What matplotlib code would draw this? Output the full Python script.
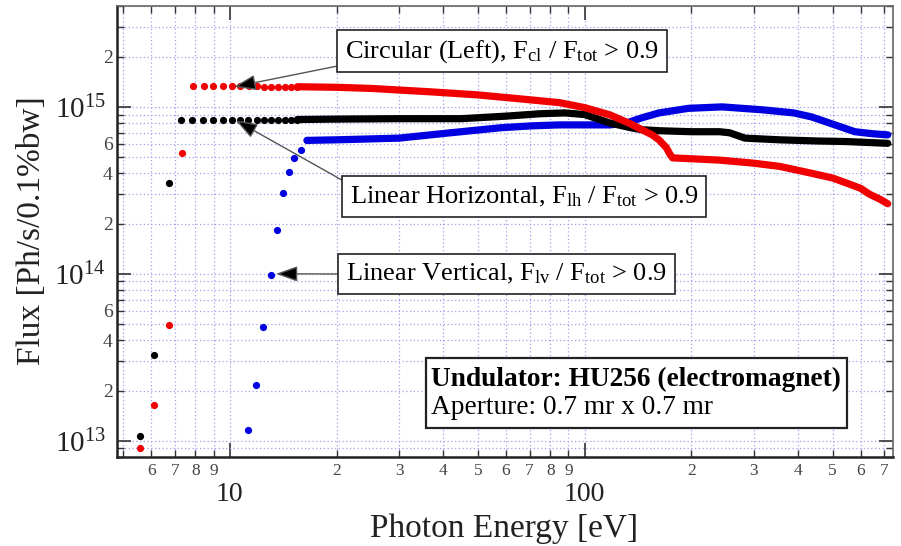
import numpy as np
import matplotlib
matplotlib.use("Agg")
import matplotlib.pyplot as plt
from matplotlib.patches import Rectangle
from matplotlib.ticker import LogLocator, FuncFormatter

plt.rcParams["font.family"] = ["Liberation Serif", "DejaVu Serif"]
plt.rcParams["mathtext.fontset"] = "custom"
plt.rcParams["mathtext.rm"] = "Liberation Serif"
plt.rcParams["mathtext.it"] = "Liberation Serif:italic"
plt.rcParams["mathtext.bf"] = "Liberation Serif:bold"

# sparse dots at low photon energy (eV, Ph/s/0.1%bw)
red_dot_e = [5.58, 6.11, 6.73, 7.32, 7.87, 8.45, 8.98, 9.56, 10.13, 10.7, 11.3,
             11.9, 12.5, 13.1, 13.7, 14.3, 14.9, 15.5]
red_dot_f = [9.1e12, 1.64e13, 4.95e13, 5.3e14, 1.33e15, 1.33e15, 1.33e15, 1.33e15,
             1.33e15, 1.33e15, 1.33e15, 1.33e15, 1.32e15, 1.32e15, 1.32e15, 1.32e15,
             1.32e15, 1.32e15]
black_dot_e = [5.58, 6.11, 6.73, 7.28, 7.85, 8.43, 8.97, 9.54, 10.13, 10.67, 11.25,
               11.9, 12.5, 13.1, 13.7, 14.3, 14.9, 15.5]
black_dot_f = [1.07e13, 3.27e13, 3.5e14, 8.4e14, 8.4e14, 8.4e14, 8.4e14, 8.4e14,
               8.4e14, 8.4e14, 8.4e14, 8.4e14, 8.4e14, 8.4e14, 8.4e14, 8.4e14,
               8.4e14, 8.4e14]
blue_dot_e = [11.24, 11.83, 12.39, 13.04, 13.56, 14.1, 14.66, 15.2, 15.85, 16.5]
blue_dot_f = [1.16e13, 2.16e13, 4.82e13, 9.86e13, 1.83e14, 3.05e14, 4.08e14,
              4.95e14, 5.5e14, 6.3e14]

# dense part (reads as a thick band)
red_e = [15.5, 20, 25, 37, 50, 71, 85, 100, 118, 135, 145, 155, 162, 170, 174,
         177, 240, 300, 355, 437, 500, 547, 600, 635, 680, 715]
red_f = [1.32e15, 1.31e15, 1.29e15, 1.23e15, 1.18e15, 1.10e15, 1.06e15, 9.9e14,
         8.95e14, 7.9e14, 7.3e14, 6.8e14, 6.35e14, 5.7e14, 5.2e14, 4.95e14,
         4.8e14, 4.6e14, 4.4e14, 4.0e14, 3.75e14, 3.5e14, 3.25e14, 3.0e14,
         2.8e14, 2.63e14]
black_e = [15.5, 20, 30, 45, 60, 75, 88, 100, 118, 135, 145, 162, 200, 240, 256,
           283, 355, 450, 547, 715]
black_f = [8.4e14, 8.45e14, 8.5e14, 8.5e14, 8.8e14, 9.1e14, 9.2e14, 9.0e14,
           8.0e14, 7.5e14, 7.3e14, 7.2e14, 7.1e14, 7.1e14, 7.0e14, 6.5e14,
           6.35e14, 6.25e14, 6.2e14, 6.05e14]
blue_e = [16.5, 20, 30, 42, 58, 71, 85, 118, 131, 145, 162, 196, 244, 318, 389,
          437, 526, 578, 650, 715]
blue_f = [6.3e14, 6.35e14, 6.5e14, 7.0e14, 7.5e14, 7.7e14, 7.8e14, 7.8e14,
          8.0e14, 8.6e14, 9.2e14, 9.8e14, 1.0e15, 9.6e14, 9.2e14, 8.7e14,
          7.6e14, 7.1e14, 6.9e14, 6.8e14]

red = "#f00000"
blue = "#0000e0"

fig = plt.figure(figsize=(9.01, 5.46), dpi=100)
ax = fig.add_axes([117 / 901, 1 - 457 / 546, 776 / 901, 451 / 546])

ax.set_xscale("log")
ax.set_yscale("log")
ax.set_xlim(4.81, 740)
ax.set_ylim(8.0e12, 4.02e15)

for e, f, de, df, c in [(blue_e, blue_f, blue_dot_e, blue_dot_f, blue),
                        (black_e, black_f, black_dot_e, black_dot_f, "black"),
                        (red_e, red_f, red_dot_e, red_dot_f, red)]:
    ax.plot(e, f, color=c, lw=5.2, solid_capstyle="round",
            solid_joinstyle="round", zorder=3)
    ax.plot(de, df, "o", color=c, ms=5.2, mec="none", zorder=3)

# ticks
ax.xaxis.set_major_locator(LogLocator(base=10, numticks=10))
ax.xaxis.set_minor_locator(LogLocator(base=10, subs=np.arange(2, 10), numticks=30))
ax.yaxis.set_major_locator(LogLocator(base=10, numticks=10))
ax.yaxis.set_minor_locator(LogLocator(base=10, subs=np.arange(2, 10), numticks=30))


def x_major(v, pos):
    return "%d" % round(v)


def x_minor(v, pos):
    if v < 5.5:
        return ""
    m = v / 10 ** np.floor(np.log10(v) + 1e-9)
    return "%d" % round(m)


def y_major(v, pos):
    return r"$10^{%d}$" % round(np.log10(v))


def y_minor(v, pos):
    if v > 3.5e15:
        return ""
    m = round(v / 10 ** np.floor(np.log10(v) + 1e-9))
    return "%d" % m if m in (2, 4, 6) else ""


ax.xaxis.set_major_formatter(FuncFormatter(x_major))
ax.xaxis.set_minor_formatter(FuncFormatter(x_minor))
ax.yaxis.set_major_formatter(FuncFormatter(y_major))
ax.yaxis.set_minor_formatter(FuncFormatter(y_minor))

ax.tick_params(which="both", direction="in", top=True, right=True,
               colors="#333333")
ax.tick_params(which="major", length=10, width=1.2)
ax.tick_params(which="minor", length=5, width=1.0)
ax.tick_params(axis="x", which="major", pad=18, labelsize=20, labelcolor="#222222")
ax.tick_params(axis="x", which="minor", pad=4.5, labelsize=12.5, labelcolor="#444444")
ax.tick_params(axis="y", which="major", pad=8, labelsize=21, labelcolor="#222222")
ax.tick_params(axis="y", which="minor", pad=3, labelsize=14, labelcolor="#444444")

ax.grid(which="both", color="#a0a0f0", linestyle=(0, (1, 2)), lw=0.9, zorder=0)
ax.set_axisbelow(True)

for side in ("left", "bottom"):
    ax.spines[side].set_linewidth(1.8)
    ax.spines[side].set_color("#222222")
for side in ("top", "right"):
    ax.spines[side].set_linewidth(1.2)
    ax.spines[side].set_color("#666666")

fig.text(32 / 901, 1 - 231 / 546, "Flux [Ph/s/0.1%bw]", rotation=90,
         ha="center", va="center", fontsize=24, color="#222222")
fig.text(504 / 901, 1 - 529 / 546, "Photon Energy [eV]", ha="center",
         va="center", fontsize=24, color="#222222")

box = dict(boxstyle="square,pad=0.3", fc="white", ec="#222222", lw=1.2)
arrow = dict(arrowstyle="-|>,head_length=0.7,head_width=0.25", fc="black",
             ec="#555555", lw=1.0, shrinkA=0, shrinkB=0)

ax.annotate(r"Circular (Left), F$_{\mathrm{cl}}$ / F$_{\mathrm{tot}}$ > 0.9",
            xy=(10.3, 1.32e15), xytext=(0.496, 0.900), textcoords="axes fraction",
            ha="center", va="center", fontsize=19, bbox=box,
            arrowprops=dict(arrow, relpos=(0, 0)), zorder=5)
ax.annotate(r"Linear Horizontal, F$_{\mathrm{lh}}$ / F$_{\mathrm{tot}}$ > 0.9",
            xy=(10.4, 8.3e14), xytext=(0.5245, 0.5776), textcoords="axes fraction",
            ha="center", va="center", fontsize=19, bbox=box,
            arrowprops=dict(arrow, relpos=(0, 1)), zorder=5)
ax.annotate(r"Linear Vertical, F$_{\mathrm{lv}}$ / F$_{\mathrm{tot}}$ > 0.9",
            xy=(13.5, 1.0e14), xytext=(0.502, 0.4058), textcoords="axes fraction",
            ha="center", va="center", fontsize=19, bbox=box,
            arrowprops=dict(arrow, relpos=(0, 0.5)), zorder=5)

# undulator info box
ax.add_patch(Rectangle((0.398, 0.0643), 0.543, 0.1552, transform=ax.transAxes,
                       fc="white", ec="#222222", lw=1.6, zorder=5))
ax.text(0.405, 0.171, "Undulator: HU256 (electromagnet)", transform=ax.transAxes,
        ha="left", va="center", fontsize=19.7, fontweight="bold", zorder=6)
ax.text(0.405, 0.110, "Aperture: 0.7 mr x 0.7 mr", transform=ax.transAxes,
        ha="left", va="center", fontsize=19.7, zorder=6)

fig.savefig("out.png", dpi=100)
